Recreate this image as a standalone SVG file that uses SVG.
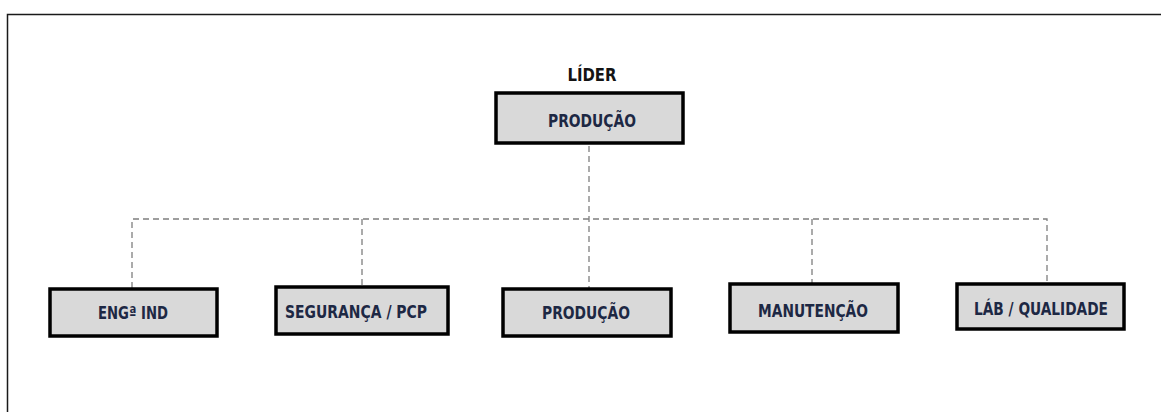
<svg xmlns="http://www.w3.org/2000/svg" width="1161" height="412" viewBox="0 0 1161 412">
  <style>
    .box { fill: #d9d9d9; stroke: #000; stroke-width: 3.5; }
    .lbl { font-family: "DejaVu Sans Condensed", "DejaVu Sans", sans-serif; font-weight: bold; font-size: 17px; fill: #1d2844; text-anchor: middle; }
    .title { font-family: "DejaVu Sans Condensed", "DejaVu Sans", sans-serif; font-weight: bold; font-size: 18px; fill: #141414; text-anchor: middle; }
    .link { fill: none; stroke: #7f7f7f; stroke-width: 1.3; stroke-dasharray: 6 4; }
  </style>
  <rect width="1161" height="412" fill="#fff"/>
  <!-- page frame -->
  <path d="M7.5 412 V14.5 H1161" fill="none" stroke="#1a1a1a" stroke-width="1.5"/>

  <g id="connectors">
    <path class="link" d="M589 146 V288"/>
    <path class="link" d="M132 288 V219 H1047 V283"/>
    <path class="link" d="M362 219 V286"/>
    <path class="link" d="M812 219 V283"/>
  </g>

  <g id="lider">
    <text class="title" x="592" y="81" textLength="49" lengthAdjust="spacingAndGlyphs">LÍDER</text>
    <rect class="box" x="496" y="93" width="187" height="50"/>
    <text class="lbl" x="592" y="127" textLength="88" lengthAdjust="spacingAndGlyphs">PRODUÇÃO</text>
  </g>
  <g id="eng">
    <rect class="box" x="50" y="289" width="167" height="47"/>
    <text class="lbl" x="133" y="319" textLength="70" lengthAdjust="spacingAndGlyphs">ENGª IND</text>
  </g>
  <g id="seguranca">
    <rect class="box" x="276" y="287" width="172" height="47"/>
    <text class="lbl" x="356" y="318" textLength="142" lengthAdjust="spacingAndGlyphs">SEGURANÇA / PCP</text>
  </g>
  <g id="producao">
    <rect class="box" x="503" y="289" width="168" height="47"/>
    <text class="lbl" x="586" y="319" textLength="88" lengthAdjust="spacingAndGlyphs">PRODUÇÃO</text>
  </g>
  <g id="manutencao">
    <rect class="box" x="730" y="284" width="168" height="48"/>
    <text class="lbl" x="813" y="317" textLength="110" lengthAdjust="spacingAndGlyphs">MANUTENÇÃO</text>
  </g>
  <g id="lab">
    <rect class="box" x="957" y="284" width="167" height="45"/>
    <text class="lbl" x="1041" y="315" textLength="134" lengthAdjust="spacingAndGlyphs">LÁB / QUALIDADE</text>
  </g>
</svg>
